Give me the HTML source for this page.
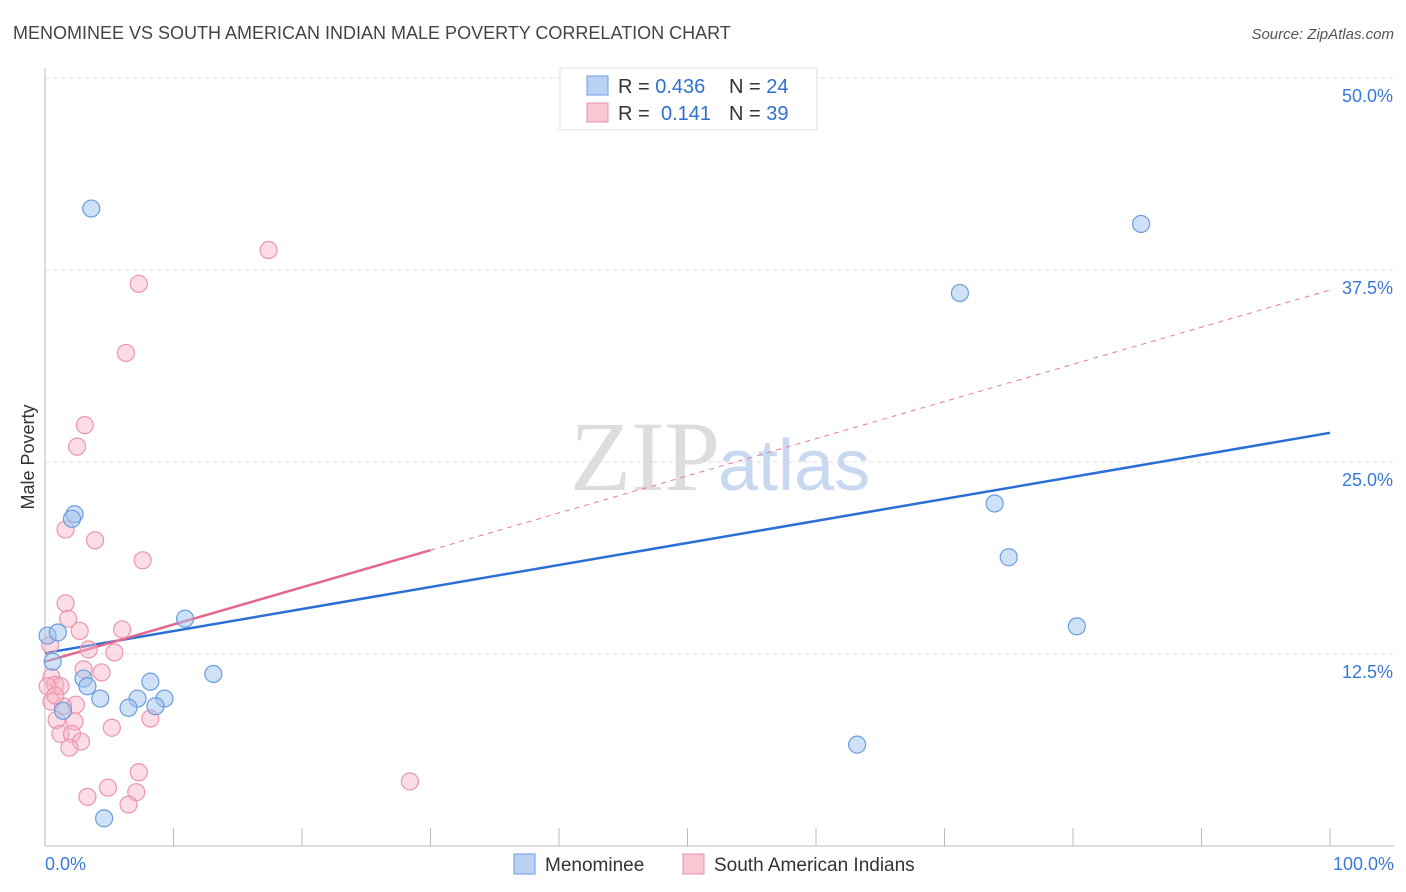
<!DOCTYPE html>
<html><head><meta charset="utf-8"><style>
body{margin:0;background:#fff;width:1406px;height:892px;overflow:hidden;font-family:"Liberation Sans",sans-serif}
svg{display:block}
</style></head><body>
<svg id="chart" width="1406" height="892">
<text x="13" y="39" font-size="18" fill="#444">MENOMINEE VS SOUTH AMERICAN INDIAN MALE POVERTY CORRELATION CHART</text>
<text x="1394" y="39" font-size="15" fill="#555" font-style="italic" text-anchor="end">Source: ZipAtlas.com</text>
<text x="0" y="0" transform="translate(34,457) rotate(-90)" font-size="18" fill="#333" text-anchor="middle">Male Poverty</text>
<text x="720" y="490" font-size="100" fill="#ddd" text-anchor="end" font-family="Liberation Serif,serif">ZIP</text>
<text x="718" y="490" font-size="72" fill="#c8d8f0">atlas</text>
<g id="grid"></g><g id="axes"></g><g id="lines"></g><g id="pts"></g>
<g>
<rect x="560" y="68" width="257" height="62" fill="#fff" stroke="#ddd"/>
<rect x="587" y="76" width="21" height="19" fill="#b8d2f4" stroke="#6a9de0"/>
<rect x="587" y="103" width="21" height="19" fill="#f9c6d4" stroke="#e890a8"/>
<text x="618" y="93" font-size="20" fill="#333">R = <tspan fill="#2f6fd0">0.436</tspan></text>
<text x="729" y="93" font-size="20" fill="#333">N = <tspan fill="#2f6fd0">24</tspan></text>
<text x="618" y="120" font-size="20" fill="#333">R = </text><text x="661" y="120" font-size="20" fill="#2f6fd0">0.141</text>
<text x="729" y="120" font-size="20" fill="#333">N = <tspan fill="#2f6fd0">39</tspan></text>
</g>
<g>
<rect x="514" y="854" width="21" height="20" fill="#b8d2f4" stroke="#6a9de0"/>
<text x="545" y="871" font-size="19" fill="#333">Menominee</text>
<rect x="683" y="854" width="21" height="20" fill="#f9c6d4" stroke="#e890a8"/>
<text x="714" y="871" font-size="19" fill="#333">South American Indians</text>
</g>
</svg>
<script>
const yTicks=[12.5,25,37.5,50];
const yTickLabels=["12.5%","25.0%","37.5%","50.0%"];
const xTickLabels=["0.0%","100.0%"];
const blueX=[3.6,2.3,2.1,10.9,0.2,1.0,0.6,3.0,3.3,13.1,8.2,4.3,7.2,9.3,6.5,8.6,1.4,4.6,63.2,71.2,85.3,73.9,75.0,80.3];
const blueY=[41.5,21.6,21.3,14.8,13.7,13.9,12.0,10.9,10.4,11.2,10.7,9.6,9.6,9.6,9.0,9.1,8.8,1.8,6.6,36.0,40.5,22.3,18.8,14.3];
const pinkX=[17.4,7.3,6.3,3.1,2.5,1.6,3.9,7.6,1.6,1.8,2.7,6.0,3.4,5.4,0.4,3.0,4.4,0.5,0.8,1.2,0.2,0.5,2.4,1.4,0.9,2.3,8.2,5.2,1.2,2.1,2.8,1.9,7.3,4.9,7.1,3.3,6.5,28.4,0.8];
const pinkY=[38.8,36.6,32.1,27.4,26.0,20.6,19.9,18.6,15.8,14.8,14.0,14.1,12.8,12.6,13.1,11.5,11.3,11.0,10.5,10.4,10.4,9.4,9.2,9.1,8.2,8.1,8.3,7.7,7.3,7.3,6.8,6.4,4.8,3.8,3.5,3.2,2.7,4.2,9.8];
const blueTrend=[12.56,26.9];
const pinkTrend=[12.0,36.2];
const pinkSolidEnd=30;
const NS="http://www.w3.org/2000/svg";
const xs=v=>45+v*12.85, ys=v=>846-v*15.36;
function mk(tag,attrs,parent){const e=document.createElementNS(NS,tag);for(const k in attrs)e.setAttribute(k,attrs[k]);document.getElementById(parent).appendChild(e);return e;}
yTicks.forEach((t,i)=>{
 const g=mk('line',{x1:45,x2:1394,y1:ys(t),y2:ys(t),stroke:'#ddd','stroke-dasharray':'4,4'},'grid');
 
 
 const l=mk('text',{x:1393,y:ys(t)+24,'font-size':18,fill:'#3a78d8','text-anchor':'end'},'grid');l.textContent=yTickLabels[i];
 
 
});
const ax=mk('line',{x1:45,x2:45,y1:68,y2:846,stroke:'#bbb'},'axes');


const bx=mk('line',{x1:45,x2:1394,y1:846,y2:846,stroke:'#bbb'},'axes');


for(let i=1;i<=10;i++){const t=mk('line',{x1:xs(i*10),x2:xs(i*10),y1:828,y2:846,stroke:'#bbb'},'axes');
 
 }
[[0,'start',45],[100,'end',1394]].forEach((a,i)=>{const t=mk('text',{x:a[2],y:870,'font-size':18,fill:'#3a78d8','text-anchor':a[1]},'axes');t.textContent=xTickLabels[i];
 
 });
const py=x=>pinkTrend[0]+(pinkTrend[1]-pinkTrend[0])*x/100;
const pd=mk('line',{x1:xs(pinkSolidEnd),y1:ys(py(pinkSolidEnd)),x2:xs(100),y2:ys(pinkTrend[1]),stroke:'#e87a9a','stroke-width':1,'stroke-dasharray':'5,5'},'lines');


const bl=mk('line',{x1:xs(0),y1:ys(blueTrend[0]),x2:xs(100),y2:ys(blueTrend[1]),stroke:'#2a6fd6','stroke-width':2.5},'lines');


const pl=mk('line',{x1:xs(0),y1:ys(pinkTrend[0]),x2:xs(pinkSolidEnd),y2:ys(py(pinkSolidEnd)),stroke:'#e4688e','stroke-width':2.5},'lines');


pinkX.forEach((x,i)=>{const c=mk('circle',{cx:xs(x),cy:ys(pinkY[i]),r:8.5,fill:'rgba(248,180,200,0.45)',stroke:'#ea96ae','stroke-width':1.2},'pts');
 
 });
blueX.forEach((x,i)=>{const c=mk('circle',{cx:xs(x),cy:ys(blueY[i]),r:8.5,fill:'rgba(160,196,240,0.5)',stroke:'#6a9de0','stroke-width':1.2},'pts');
 
 });
</script>
</body></html>
